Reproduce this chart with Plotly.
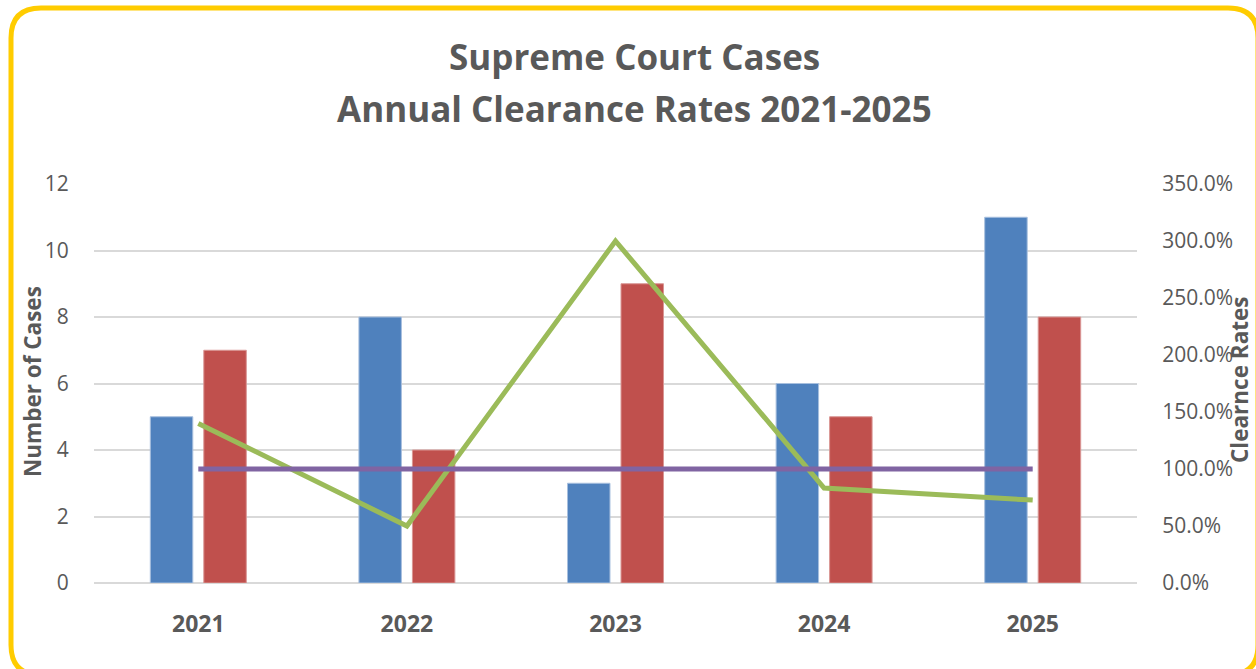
import plotly.graph_objects as go

years = ["2021", "2022", "2023", "2024", "2025"]
filed = [5, 8, 3, 6, 11]
disposed = [7, 4, 9, 5, 8]
clearance = [1.40, 0.50, 3.00, 0.833, 0.727]
target = [1.0, 1.0, 1.0, 1.0, 1.0]

W, H = 1256, 669
L, R, T, B = 94, 1137, 184, 583
PW, PH = R - L, B - T


def px(x):
    return (x - L) / PW


def py(y):
    return (B - y) / PH


FONT = "Open Sans"
GRAY = "#595959"

fig = go.Figure()
fig.add_trace(go.Bar(x=years, y=filed, name="Filed", marker=dict(color="#4F81BD", line=dict(color="#A7BFDE", width=1))))
fig.add_trace(go.Bar(x=years, y=disposed, name="Disposed", marker=dict(color="#C0504D", line=dict(color="#D99694", width=1))))
fig.add_trace(go.Scatter(x=years, y=clearance, yaxis="y2", mode="lines", name="Clearance Rate",
                         line=dict(color="#9BBB59", width=5)))
fig.add_trace(go.Scatter(x=years, y=target, yaxis="y2", mode="lines", name="Target",
                         line=dict(color="#8064A2", width=5)))

# rounded border
x0, x1 = px(11), px(1258)
y0, y1 = py(8), py(675)
rx, ry = 30 / PW, 30 / PH
path = (f"M {x0+rx},{y0} L {x1-rx},{y0} Q {x1},{y0} {x1},{y0-ry} "
        f"L {x1},{y1+ry} Q {x1},{y1} {x1-rx},{y1} L {x0+rx},{y1} Q {x0},{y1} {x0},{y1+ry} "
        f"L {x0},{y0-ry} Q {x0},{y0} {x0+rx},{y0} Z")

fig.update_layout(
    width=W, height=H,
    margin=dict(l=L, r=W - R, t=T, b=H - B),
    paper_bgcolor="white", plot_bgcolor="white",
    showlegend=False,
    barmode="group", bargap=0.487, bargroupgap=0.206,
    font=dict(family=FONT, color=GRAY),
    xaxis=dict(showgrid=False, showline=False, zeroline=False,
               tickfont=dict(size=23, color=GRAY, family=FONT, weight="bold"),
               ticks="outside", ticklen=20, tickcolor="rgba(0,0,0,0)"),
    yaxis=dict(range=[0, 12], dtick=2, showgrid=True, gridcolor="#D9D9D9", gridwidth=1.5,
               zeroline=True, zerolinecolor="#D9D9D9", zerolinewidth=1.5, showline=False,
               tickfont=dict(size=21, color=GRAY, family=FONT),
               ticks="outside", ticklen=20, tickcolor="rgba(0,0,0,0)"),
    yaxis2=dict(range=[0, 3.5], dtick=0.5, tickformat=".1%", overlaying="y", side="right",
                showgrid=False, zeroline=False, showline=False,
                tickfont=dict(size=21, color=GRAY, family=FONT),
                ticks="outside", ticklen=20, tickcolor="rgba(0,0,0,0)"),
    shapes=[dict(type="path", xref="paper", yref="paper", path=path,
                 line=dict(color="#FFCC00", width=5), layer="below")],
    annotations=[
        dict(text="<b>Supreme Court Cases</b>", xref="paper", yref="paper", x=px(634), y=py(57),
             showarrow=False, font=dict(size=35, color=GRAY, family=FONT), xanchor="center", yanchor="middle"),
        dict(text="<b>Annual Clearance Rates 2021-2025</b>", xref="paper", yref="paper", x=px(634), y=py(108),
             showarrow=False, font=dict(size=35, color=GRAY, family=FONT), xanchor="center", yanchor="middle"),
        dict(text="<b>Number of Cases</b>", xref="paper", yref="paper", x=px(32), y=py(382),
             showarrow=False, textangle=-90, font=dict(size=22.5, color=GRAY, family=FONT),
             xanchor="center", yanchor="middle"),
        dict(text="<b>Clearnce Rates</b>", xref="paper", yref="paper", x=px(1239), y=py(380),
             showarrow=False, textangle=-90, font=dict(size=22.5, color=GRAY, family=FONT),
             xanchor="center", yanchor="middle"),
    ],
)

fig.write_html("out.html", config={"displayModeBar": False},
               post_script="document.body.style.margin='0';document.body.style.overflow='hidden';")
